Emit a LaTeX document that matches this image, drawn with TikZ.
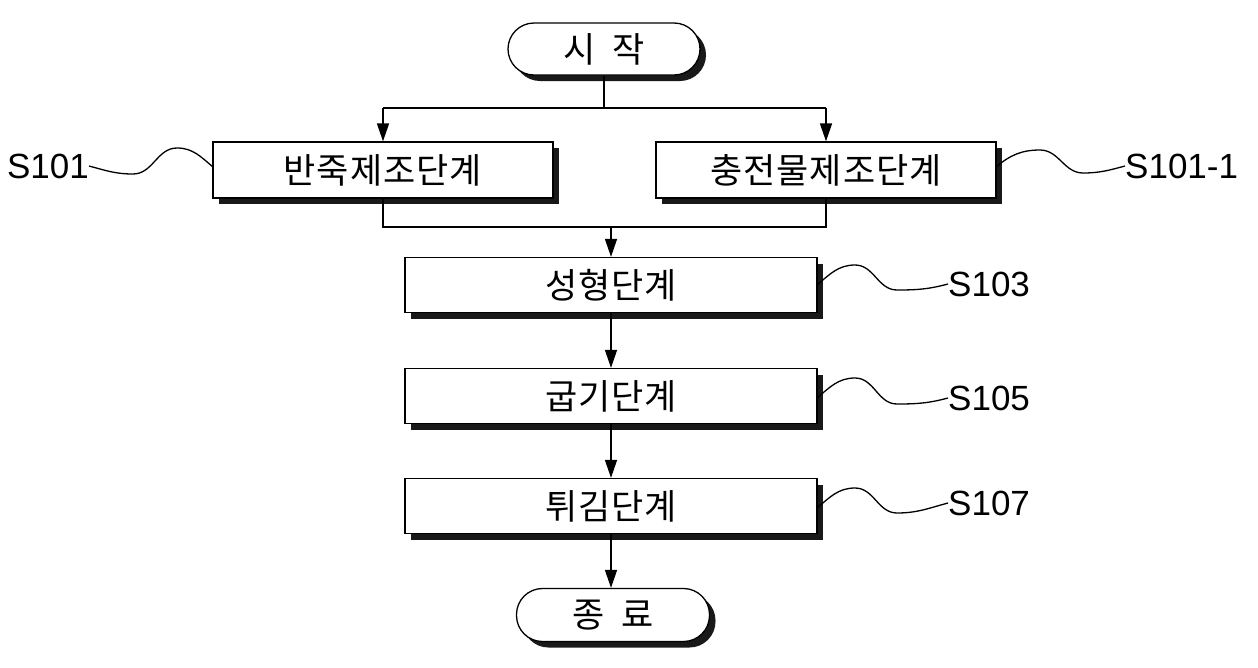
\documentclass[tikz,border=0pt]{standalone}
\usepackage{fontspec}
\setmainfont{Liberation Sans}
\newfontfamily\kr[LetterSpace=3]{Noto Sans CJK KR}
\usetikzlibrary{arrows.meta,shadows}
\begin{document}
\begin{tikzpicture}[x=1pt,y=-1pt,
  box/.style={draw,line width=1.3pt,fill=white,minimum width=340pt,minimum height=56pt,inner sep=0pt,
    font=\kr\fontsize{35}{38}\selectfont,
    drop shadow={shadow xshift=6pt,shadow yshift=-6pt,fill=black,opacity=0.9}},
  wide/.style={box,minimum width=412pt,minimum height=55pt},
  term/.style={box,minimum width=192pt,minimum height=52pt,rounded corners=26pt},
  lab/.style={font=\fontsize{35}{38}\selectfont,inner sep=0pt},
  con/.style={line width=1.6pt},
  arr/.style={con,-{Triangle[length=18pt,width=12pt]}},
  wave/.style={line width=1.3pt}]
\path[use as bounding box,fill=white] (0,0) rectangle (1258,667);

\node[term] (start) at (604,49) {시\hspace{8pt} 작};
\node[box] (b1) at (383,170) {반죽제조단계};
\node[box] (b2) at (826,170) {충전물제조단계};
\node[wide] (s3) at (611,285) {성형단계};
\node[wide] (s5) at (611,396) {굽기단계};
\node[wide] (s7) at (611,506) {튀김단계};
\node[term,minimum width=193pt,minimum height=53pt] (end) at (613,615) {종\hspace{8pt} 료};

\coordinate (split) at (604,108);
\coordinate (sl) at (383,108);
\coordinate (sr) at (826,108);
\coordinate (ml) at (383,227);
\coordinate (mr) at (826,227);
\coordinate (mm) at (611,227);

\draw[con] (start.south) -- (split);
\draw[con] (sl) -- (sr);
\draw[arr] (sl) -- (b1.north);
\draw[arr] (sr) -- (b2.north);
\draw[con] (b1.south) -- (ml) -- (mr) -- (b2.south);
\draw[arr] (mm) -- (s3.north);
\draw[arr] (s3.south) -- (s5.north);
\draw[arr] (s5.south) -- (s7.north);
\draw[arr] (s7.south) -- (s7.south |- end.north);

\node[lab,anchor=east] (l1) at (89,166) {S101};
\node[lab,anchor=west] (l11) at (1125,166) {S101-1};
\node[lab,anchor=west] (l3) at (948,284) {S103};
\node[lab,anchor=west] (l5) at (948,398) {S105};
\node[lab,anchor=west] (l7) at (948,503) {S107};

\draw[wave] (l1.east) to[out=-15,in=180] (133,174) to[out=0,in=180] (177,148) to[out=0,in=140] (213,167);
\draw[wave] (996,167) to[out=40,in=180] (1040,150) to[out=0,in=180] (1083,173) to[out=0,in=195] (l11.west);
\draw[wave] (817,285) to[out=40,in=180] (855,265) to[out=0,in=180] (897,290) to[out=0,in=195] (l3.west);
\draw[wave] (817,398) to[out=40,in=180] (855,378) to[out=0,in=180] (897,404) to[out=0,in=195] (l5.west);
\draw[wave] (817,508) to[out=40,in=180] (855,488) to[out=0,in=180] (897,513) to[out=0,in=195] (l7.west);
\end{tikzpicture}
\end{document}
